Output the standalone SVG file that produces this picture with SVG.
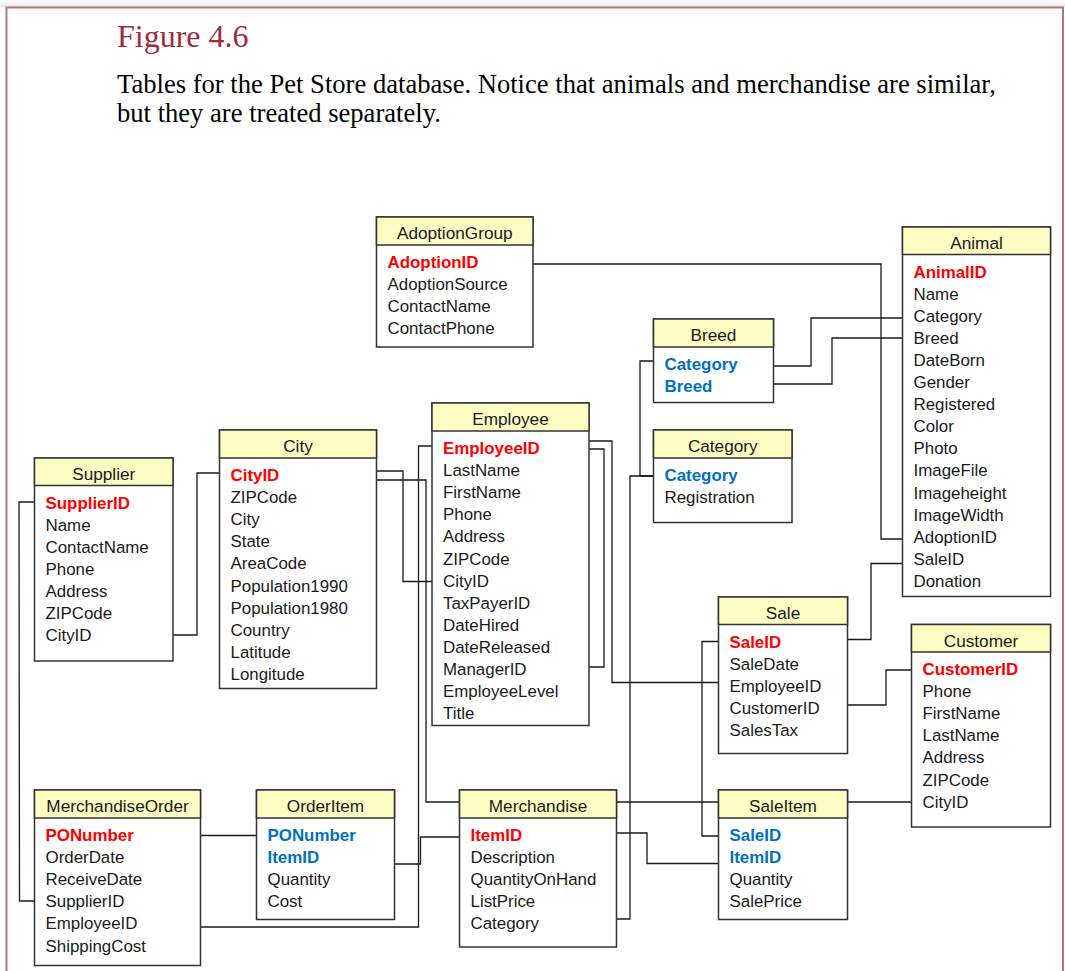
<svg xmlns="http://www.w3.org/2000/svg" width="1065" height="971" viewBox="0 0 1065 971">
<defs>
<linearGradient id="topShade" x1="0" y1="0" x2="0" y2="1">
<stop offset="0" stop-color="#ffffff"/>
<stop offset="1" stop-color="#e6e6e6"/>
</linearGradient>
</defs>
<style>
.frame{fill:none;stroke:#b9727c;stroke-width:2}
.box{fill:#ffffff;stroke:#333333;stroke-width:1.5}
.hdr{fill:#fdfcc3;stroke:#333333;stroke-width:1.5}
text{font-family:"Liberation Sans",Arial,sans-serif;font-size:16.9px;fill:#1a1a1a}
.ht{text-anchor:middle;font-size:17.2px}
.pk{fill:#ff0000;font-weight:bold}
.fk{fill:#0070c0;font-weight:bold}
.title{font-family:"Liberation Serif","Times New Roman",serif;font-size:32px;fill:#9e2b3b}
.desc{font-family:"Liberation Serif","Times New Roman",serif;font-size:26.6px;fill:#000000}
.conn polyline{fill:none;stroke:#1a1a1a;stroke-width:1.3}
</style>
<rect x="0" y="0" width="1065" height="971" fill="#ffffff"/>
<rect x="0" y="0" width="1065" height="7" fill="url(#topShade)"/>
<rect class="frame" x="6.5" y="7.5" width="1056.5" height="1000"/>
<text class="title" x="117" y="47">Figure 4.6</text>
<text class="desc" x="117" y="93">Tables for the Pet Store database. Notice that animals and merchandise are similar,</text>
<text class="desc" x="117" y="122">but they are treated separately.</text>

<g id="connectors" class="conn">
<polyline points="533,264 881,264 881,539 902.5,539"/>
<polyline points="773.5,366 811,366 811,318 902.5,318"/>
<polyline points="773.5,384 832,384 832,338 902.5,338"/>
<polyline points="653.5,361 640,361 640,476 653.5,476"/>
<polyline points="653.5,476 630,476 630,919 616.5,919"/>
<polyline points="173,635 197,635 197,473 219.5,473"/>
<polyline points="34.5,502 19,502 19.5,901 34.5,901"/>
<polyline points="376.5,471 403,471 403,581.5 432,581.5"/>
<polyline points="376.5,480 426,480 426,802 459.5,802"/>
<polyline points="432,446 418.5,446 418.5,927 200.5,927"/>
<polyline points="589,441 612,441 612,682.5 718.5,682.5"/>
<polyline points="589,449 604,449 604,667 589,667"/>
<polyline points="847.5,639.5 871,639.5 871,563.5 902.5,563.5"/>
<polyline points="847.5,705 886,705 886,670 911.5,670"/>
<polyline points="718.5,641.5 702,641.5 702,836 718.5,836"/>
<polyline points="616.5,802 718.5,802"/>
<polyline points="847.5,802 911.5,802"/>
<polyline points="616.5,833 647,833 647,863.5 718.5,863.5"/>
<polyline points="394.5,864 420.5,864 420.5,837 459.5,837"/>
<polyline points="200.5,835.5 256.5,835.5"/>
</g>

<g id="AdoptionGroup">
<rect class="box" x="376.5" y="217" width="156.5" height="130"/>
<rect class="hdr" x="376.5" y="217" width="156.5" height="28"/>
<text class="ht" x="454.75" y="239">AdoptionGroup</text>
<text class="pk" x="387.5" y="268">AdoptionID</text>
<text x="387.5" y="290.1">AdoptionSource</text>
<text x="387.5" y="312.2">ContactName</text>
<text x="387.5" y="334.3">ContactPhone</text>
</g>

<g id="Animal">
<rect class="box" x="902.5" y="227" width="148" height="369.5"/>
<rect class="hdr" x="902.5" y="227" width="148" height="27.5"/>
<text class="ht" x="976.5" y="249">Animal</text>
<text class="pk" x="913.5" y="277.5">AnimalID</text>
<text x="913.5" y="299.6">Name</text>
<text x="913.5" y="321.7">Category</text>
<text x="913.5" y="343.8">Breed</text>
<text x="913.5" y="365.9">DateBorn</text>
<text x="913.5" y="388">Gender</text>
<text x="913.5" y="410.1">Registered</text>
<text x="913.5" y="432.2">Color</text>
<text x="913.5" y="454.3">Photo</text>
<text x="913.5" y="476.4">ImageFile</text>
<text x="913.5" y="498.5">Imageheight</text>
<text x="913.5" y="520.6">ImageWidth</text>
<text x="913.5" y="542.7">AdoptionID</text>
<text x="913.5" y="564.8">SaleID</text>
<text x="913.5" y="586.9">Donation</text>
</g>

<g id="Breed">
<rect class="box" x="653.5" y="319" width="120" height="83.5"/>
<rect class="hdr" x="653.5" y="319" width="120" height="28"/>
<text class="ht" x="713.5" y="341">Breed</text>
<text class="fk" x="664.5" y="370">Category</text>
<text class="fk" x="664.5" y="392.1">Breed</text>
</g>

<g id="Category">
<rect class="box" x="653.5" y="430" width="138.5" height="92.5"/>
<rect class="hdr" x="653.5" y="430" width="138.5" height="28"/>
<text class="ht" x="722.75" y="452">Category</text>
<text class="fk" x="664.5" y="481">Category</text>
<text x="664.5" y="503.1">Registration</text>
</g>

<g id="Employee">
<rect class="box" x="432" y="403" width="157" height="322.5"/>
<rect class="hdr" x="432" y="403" width="157" height="28"/>
<text class="ht" x="510.5" y="425">Employee</text>
<text class="pk" x="443" y="454">EmployeeID</text>
<text x="443" y="476.1">LastName</text>
<text x="443" y="498.2">FirstName</text>
<text x="443" y="520.3">Phone</text>
<text x="443" y="542.4">Address</text>
<text x="443" y="564.5">ZIPCode</text>
<text x="443" y="586.6">CityID</text>
<text x="443" y="608.7">TaxPayerID</text>
<text x="443" y="630.8">DateHired</text>
<text x="443" y="652.9">DateReleased</text>
<text x="443" y="675">ManagerID</text>
<text x="443" y="697.1">EmployeeLevel</text>
<text x="443" y="719.2">Title</text>
</g>

<g id="City">
<rect class="box" x="219.5" y="430" width="157" height="258.5"/>
<rect class="hdr" x="219.5" y="430" width="157" height="28"/>
<text class="ht" x="298" y="452">City</text>
<text class="pk" x="230.5" y="481">CityID</text>
<text x="230.5" y="503.1">ZIPCode</text>
<text x="230.5" y="525.2">City</text>
<text x="230.5" y="547.3">State</text>
<text x="230.5" y="569.4">AreaCode</text>
<text x="230.5" y="591.5">Population1990</text>
<text x="230.5" y="613.6">Population1980</text>
<text x="230.5" y="635.7">Country</text>
<text x="230.5" y="657.8">Latitude</text>
<text x="230.5" y="679.9">Longitude</text>
</g>

<g id="Supplier">
<rect class="box" x="34.5" y="458" width="138.5" height="203"/>
<rect class="hdr" x="34.5" y="458" width="138.5" height="27.5"/>
<text class="ht" x="103.75" y="480">Supplier</text>
<text class="pk" x="45.5" y="508.5">SupplierID</text>
<text x="45.5" y="530.6">Name</text>
<text x="45.5" y="552.7">ContactName</text>
<text x="45.5" y="574.8">Phone</text>
<text x="45.5" y="596.9">Address</text>
<text x="45.5" y="619">ZIPCode</text>
<text x="45.5" y="641.1">CityID</text>
</g>

<g id="Sale">
<rect class="box" x="718.5" y="597" width="129" height="156.5"/>
<rect class="hdr" x="718.5" y="597" width="129" height="27.5"/>
<text class="ht" x="783" y="619">Sale</text>
<text class="pk" x="729.5" y="647.5">SaleID</text>
<text x="729.5" y="669.6">SaleDate</text>
<text x="729.5" y="691.7">EmployeeID</text>
<text x="729.5" y="713.8">CustomerID</text>
<text x="729.5" y="735.9">SalesTax</text>
</g>

<g id="Customer">
<rect class="box" x="911.5" y="624.5" width="139" height="202.5"/>
<rect class="hdr" x="911.5" y="624.5" width="139" height="27.5"/>
<text class="ht" x="981" y="646.5">Customer</text>
<text class="pk" x="922.5" y="675">CustomerID</text>
<text x="922.5" y="697.1">Phone</text>
<text x="922.5" y="719.2">FirstName</text>
<text x="922.5" y="741.3">LastName</text>
<text x="922.5" y="763.4">Address</text>
<text x="922.5" y="785.5">ZIPCode</text>
<text x="922.5" y="807.6">CityID</text>
</g>

<g id="MerchandiseOrder">
<rect class="box" x="34.5" y="790" width="166" height="175.5"/>
<rect class="hdr" x="34.5" y="790" width="166" height="28"/>
<text class="ht" x="117.5" y="812">MerchandiseOrder</text>
<text class="pk" x="45.5" y="841">PONumber</text>
<text x="45.5" y="863.1">OrderDate</text>
<text x="45.5" y="885.2">ReceiveDate</text>
<text x="45.5" y="907.3">SupplierID</text>
<text x="45.5" y="929.4">EmployeeID</text>
<text x="45.5" y="951.5">ShippingCost</text>
</g>

<g id="OrderItem">
<rect class="box" x="256.5" y="790" width="138" height="129.5"/>
<rect class="hdr" x="256.5" y="790" width="138" height="28"/>
<text class="ht" x="325.5" y="812">OrderItem</text>
<text class="fk" x="267.5" y="841">PONumber</text>
<text class="fk" x="267.5" y="863.1">ItemID</text>
<text x="267.5" y="885.2">Quantity</text>
<text x="267.5" y="907.3">Cost</text>
</g>

<g id="Merchandise">
<rect class="box" x="459.5" y="790" width="157" height="157"/>
<rect class="hdr" x="459.5" y="790" width="157" height="28"/>
<text class="ht" x="538" y="812">Merchandise</text>
<text class="pk" x="470.5" y="841">ItemID</text>
<text x="470.5" y="863.1">Description</text>
<text x="470.5" y="885.2">QuantityOnHand</text>
<text x="470.5" y="907.3">ListPrice</text>
<text x="470.5" y="929.4">Category</text>
</g>

<g id="SaleItem">
<rect class="box" x="718.5" y="790" width="129" height="129.5"/>
<rect class="hdr" x="718.5" y="790" width="129" height="28"/>
<text class="ht" x="783" y="812">SaleItem</text>
<text class="fk" x="729.5" y="841">SaleID</text>
<text class="fk" x="729.5" y="863.1">ItemID</text>
<text x="729.5" y="885.2">Quantity</text>
<text x="729.5" y="907.3">SalePrice</text>
</g>
</svg>
